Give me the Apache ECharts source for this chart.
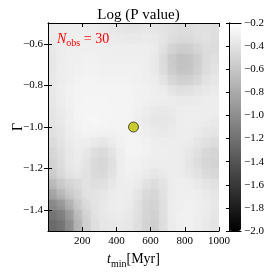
<!DOCTYPE html>
<html><head><meta charset="utf-8">
<script src="https://cdn.jsdelivr.net/npm/echarts@6/dist/echarts.min.js"></script>
<style>html,body{margin:0;padding:0;background:#fff}#c{width:274px;height:274px}</style>
</head><body><div id="c"></div>
<script>
// cell centres of the Log(P value) map
const tMin = [25,75,125,175,225,275,325,375,425,475,525,575,625,675,725,775,825,875,925,975];
const gammaVals = [-0.525,-0.575,-0.625,-0.675,-0.725,-0.775,-0.825,-0.875,-0.925,-0.975,
                   -1.025,-1.075,-1.125,-1.175,-1.225,-1.275,-1.325,-1.375,-1.425,-1.475];
// Log(P value), one row per gamma value (top to bottom), one column per t_min
const logP = [
[-0.33,-0.32,-0.32,-0.32,-0.33,-0.33,-0.35,-0.36,-0.38,-0.39,-0.39,-0.38,-0.38,-0.39,-0.41,-0.43,-0.43,-0.42,-0.42,-0.43],
[-0.34,-0.32,-0.31,-0.31,-0.32,-0.33,-0.33,-0.34,-0.35,-0.36,-0.36,-0.35,-0.35,-0.38,-0.42,-0.45,-0.45,-0.41,-0.40,-0.43],
[-0.36,-0.33,-0.31,-0.31,-0.31,-0.31,-0.31,-0.32,-0.32,-0.32,-0.32,-0.32,-0.33,-0.39,-0.48,-0.53,-0.53,-0.48,-0.43,-0.45],
[-0.38,-0.33,-0.31,-0.31,-0.30,-0.30,-0.31,-0.31,-0.31,-0.31,-0.31,-0.31,-0.34,-0.43,-0.55,-0.62,-0.62,-0.55,-0.45,-0.42],
[-0.38,-0.33,-0.31,-0.30,-0.29,-0.29,-0.30,-0.30,-0.30,-0.30,-0.30,-0.31,-0.34,-0.43,-0.56,-0.63,-0.62,-0.55,-0.45,-0.40],
[-0.37,-0.33,-0.31,-0.29,-0.28,-0.28,-0.29,-0.29,-0.29,-0.29,-0.30,-0.31,-0.33,-0.39,-0.49,-0.55,-0.55,-0.50,-0.41,-0.38],
[-0.36,-0.32,-0.30,-0.28,-0.28,-0.28,-0.28,-0.28,-0.28,-0.28,-0.29,-0.30,-0.31,-0.33,-0.39,-0.43,-0.43,-0.40,-0.36,-0.35],
[-0.38,-0.33,-0.30,-0.28,-0.27,-0.27,-0.27,-0.28,-0.28,-0.28,-0.29,-0.30,-0.31,-0.31,-0.33,-0.35,-0.35,-0.34,-0.33,-0.33],
[-0.39,-0.34,-0.31,-0.28,-0.27,-0.27,-0.27,-0.27,-0.28,-0.28,-0.30,-0.32,-0.35,-0.36,-0.35,-0.33,-0.32,-0.32,-0.32,-0.33],
[-0.40,-0.36,-0.31,-0.28,-0.27,-0.26,-0.27,-0.28,-0.28,-0.28,-0.31,-0.34,-0.38,-0.38,-0.36,-0.33,-0.32,-0.32,-0.33,-0.35],
[-0.42,-0.38,-0.33,-0.29,-0.28,-0.28,-0.28,-0.29,-0.28,-0.28,-0.29,-0.32,-0.35,-0.36,-0.35,-0.33,-0.32,-0.33,-0.36,-0.38],
[-0.45,-0.40,-0.34,-0.31,-0.31,-0.33,-0.36,-0.33,-0.30,-0.28,-0.28,-0.30,-0.32,-0.33,-0.33,-0.32,-0.33,-0.36,-0.40,-0.43],
[-0.49,-0.43,-0.36,-0.32,-0.35,-0.42,-0.46,-0.40,-0.32,-0.28,-0.28,-0.29,-0.31,-0.31,-0.32,-0.33,-0.36,-0.40,-0.46,-0.49],
[-0.52,-0.45,-0.36,-0.33,-0.38,-0.46,-0.49,-0.43,-0.33,-0.29,-0.29,-0.31,-0.32,-0.32,-0.32,-0.33,-0.38,-0.43,-0.49,-0.52],
[-0.55,-0.46,-0.38,-0.35,-0.39,-0.46,-0.48,-0.42,-0.33,-0.30,-0.31,-0.33,-0.36,-0.35,-0.33,-0.33,-0.36,-0.40,-0.46,-0.49],
[-0.69,-0.55,-0.48,-0.45,-0.39,-0.43,-0.43,-0.38,-0.33,-0.31,-0.33,-0.39,-0.43,-0.39,-0.33,-0.31,-0.32,-0.35,-0.39,-0.42],
[-0.84,-0.69,-0.55,-0.49,-0.40,-0.40,-0.38,-0.34,-0.32,-0.32,-0.36,-0.45,-0.49,-0.42,-0.33,-0.31,-0.31,-0.32,-0.35,-0.38],
[-1.01,-0.91,-0.73,-0.55,-0.45,-0.39,-0.36,-0.33,-0.32,-0.33,-0.39,-0.48,-0.52,-0.43,-0.33,-0.31,-0.30,-0.31,-0.33,-0.36],
[-1.17,-1.10,-0.91,-0.66,-0.50,-0.40,-0.36,-0.34,-0.33,-0.35,-0.40,-0.49,-0.53,-0.43,-0.33,-0.30,-0.29,-0.31,-0.33,-0.38],
[-1.26,-1.21,-1.05,-0.76,-0.55,-0.43,-0.38,-0.36,-0.35,-0.36,-0.42,-0.50,-0.55,-0.45,-0.34,-0.31,-0.30,-0.32,-0.35,-0.39]
];
const bestFit = [[500, -1.0]];
const xTicks = [200, 400, 600, 800, 1000];
const yTicks = [-1.4, -1.2, -1.0, -0.8, -0.6];
const cbMin = -2.0, cbMax = -0.2;

const cells = [];
gammaVals.forEach((g, r) => tMin.forEach((t, c) => cells.push([t, g, logP[r][c]])));
const cellW = tMin[1] - tMin[0];
const cellH = gammaVals[0] - gammaVals[1];

const FONT = 'Liberation Serif';
const neg = s => s.replace('-', '\u2212');
const tickFont = {fontFamily: FONT, fontSize: 11, color: '#000'};
const lineStyle = {color: '#000', width: 1};

const chart = echarts.init(document.getElementById('c'), null, {renderer: 'canvas'});
chart.setOption({
  animation: false,
  backgroundColor: '#fff',
  title: {
    text: 'Log (P value)', left: 133.5, top: 3, textAlign: 'center',
    textStyle: {fontFamily: FONT, fontSize: 15, fontWeight: 'normal', color: '#000'}
  },
  grid: [
    {left: 48, top: 23, width: 171, height: 208, outerBoundsMode: 'none', containLabel: false},
    {left: 229, top: 23, width: 12, height: 208, outerBoundsMode: 'none', containLabel: false}
  ],
  xAxis: [
    {gridIndex: 0, type: 'value', min: 0, max: 1000, position: 'bottom', z: 10,
     axisLine: {show: true, lineStyle}, splitLine: {show: false},
     axisTick: {inside: true, length: 4, lineStyle, customValues: xTicks},
     axisLabel: Object.assign({customValues: xTicks, margin: 5, formatter: v => String(v)}, tickFont),
     name: '{i|t}{s|min}{n|[Myr]}', nameLocation: 'middle', nameGap: 19,
     nameTextStyle: {rich: {
       i: {fontFamily: FONT, fontStyle: 'italic', fontSize: 14, color: '#000'},
       s: {fontFamily: FONT, fontSize: 10, color: '#000', padding: [9, 0, 0, 0]},
       n: {fontFamily: FONT, fontSize: 14, color: '#000'}
     }}},
    {gridIndex: 0, type: 'value', min: 0, max: 1000, position: 'top', z: 10,
     axisLine: {show: true, lineStyle}, splitLine: {show: false},
     axisTick: {inside: true, length: 4, lineStyle, customValues: xTicks},
     axisLabel: {show: false}},
    {gridIndex: 1, type: 'value', min: 0, max: 1, position: 'bottom', z: 10,
     axisLine: {show: true, lineStyle}, axisTick: {show: false}, axisLabel: {show: false}, splitLine: {show: false}},
    {gridIndex: 1, type: 'value', min: 0, max: 1, position: 'top', z: 10,
     axisLine: {show: true, lineStyle}, axisTick: {show: false}, axisLabel: {show: false}, splitLine: {show: false}}
  ],
  yAxis: [
    {gridIndex: 0, type: 'value', min: -1.5, max: -0.5, position: 'left', z: 10,
     axisLine: {show: true, lineStyle}, splitLine: {show: false},
     axisTick: {inside: true, length: 4, lineStyle, customValues: yTicks},
     axisLabel: Object.assign({customValues: yTicks, margin: 5, formatter: v => neg(v.toFixed(1))}, tickFont),
     name: 'Γ', nameLocation: 'middle', nameGap: 23, nameRotate: 90, nameMoveOverlap: false,
     nameTextStyle: {fontFamily: FONT, fontSize: 14, color: '#000'}},
    {gridIndex: 0, type: 'value', min: -1.5, max: -0.5, position: 'right', z: 10,
     axisLine: {show: true, lineStyle}, splitLine: {show: false},
     axisTick: {inside: true, length: 4, lineStyle, customValues: yTicks},
     axisLabel: {show: false}},
    {gridIndex: 1, type: 'value', min: cbMin, max: cbMax, interval: 0.2, position: 'right', z: 10,
     axisLine: {show: true, lineStyle}, splitLine: {show: false},
     axisTick: {inside: true, length: 3, lineStyle},
     axisLabel: Object.assign({margin: 3, formatter: v => neg(v.toFixed(1))}, tickFont)},
    {gridIndex: 1, type: 'value', min: cbMin, max: cbMax, position: 'left', z: 10,
     axisLine: {show: true, lineStyle}, axisTick: {show: false}, axisLabel: {show: false}, splitLine: {show: false}}
  ],
  visualMap: {
    type: 'continuous', min: cbMin, max: cbMax, dimension: 2, seriesIndex: 0,
    inRange: {color: ['#000000', '#ffffff']},
    left: 229, top: 23, itemWidth: 12, itemHeight: 208, padding: 0,
    calculable: false, hoverLink: false, text: null, showLabel: false, realtime: false
  },
  series: [
    {type: 'custom', xAxisIndex: 0, yAxisIndex: 0, data: cells, clip: true, z: 1,
     renderItem: (params, api) => {
       const x = api.value(0), y = api.value(1);
       const p0 = api.coord([x - cellW / 2, y + cellH / 2]);
       const p1 = api.coord([x + cellW / 2, y - cellH / 2]);
       const c = api.visual('color');
       return {type: 'rect',
         shape: {x: p0[0], y: p0[1], width: p1[0] - p0[0] + 0.6, height: p1[1] - p0[1] + 0.6},
         style: {fill: c, shadowBlur: 13, shadowColor: c}};
     }},
    {type: 'scatter', xAxisIndex: 0, yAxisIndex: 0, data: bestFit, symbolSize: 10, z: 5,
     itemStyle: {color: '#bfbf00', borderColor: '#000', borderWidth: 0.8}}
  ],
  graphic: [
    {type: 'text', left: 57, top: 32, z: 20,
     style: {text: '{n|N}{s|obs}{e| = 30}', fill: '#ff0000',
       rich: {
         n: {fontFamily: FONT, fontStyle: 'italic', fontSize: 14, fill: '#ff0000'},
         s: {fontFamily: FONT, fontSize: 10, fill: '#ff0000', padding: [9, 0, 0, 0]},
         e: {fontFamily: FONT, fontSize: 14, fill: '#ff0000'}
       }}}
  ]
});
</script></body></html>
